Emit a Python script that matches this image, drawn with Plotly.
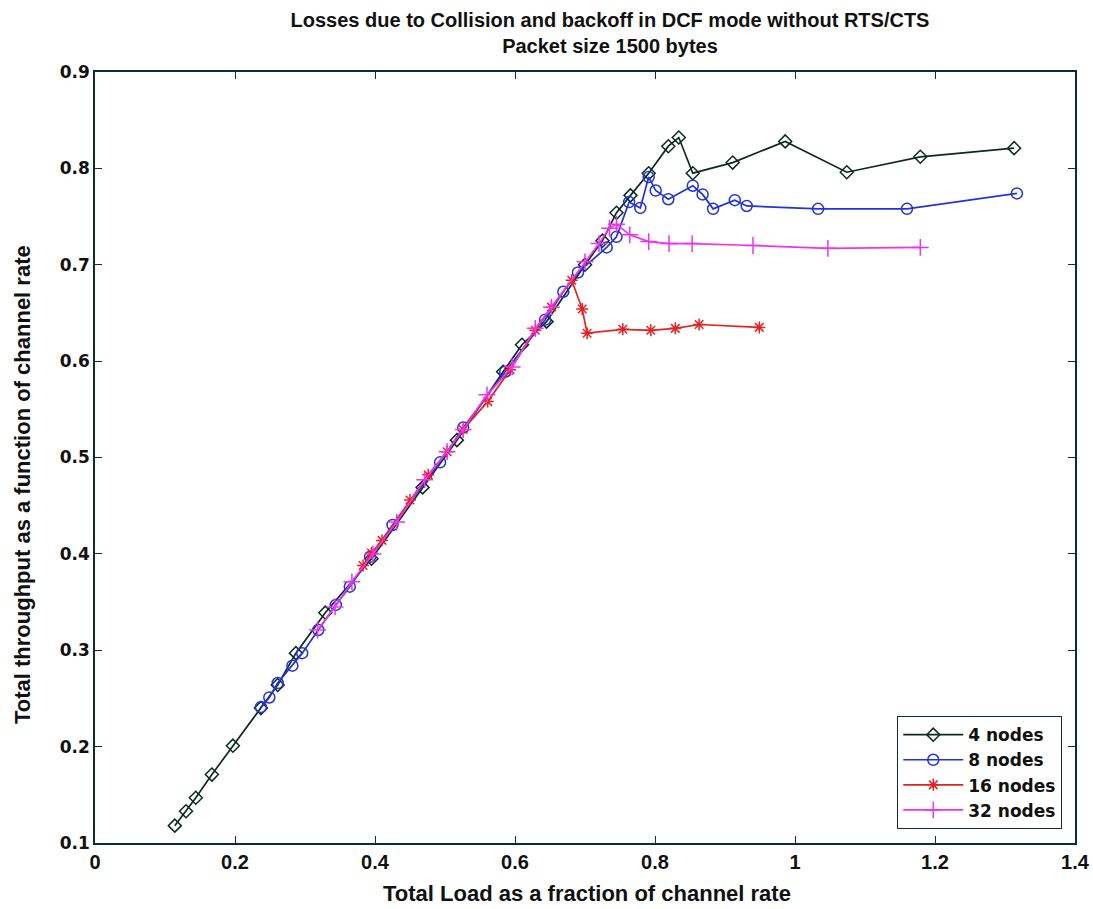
import plotly.graph_objects as go

# ---- data ----
x4 = [0.114, 0.130, 0.144, 0.167, 0.197, 0.237, 0.261, 0.287, 0.329, 0.395, 0.468, 0.517,
      0.583, 0.610, 0.645, 0.700, 0.725, 0.745, 0.765, 0.791, 0.819, 0.834, 0.854, 0.911,
      0.986, 1.074, 1.179, 1.313]
y4 = [0.118, 0.133, 0.147, 0.171, 0.201, 0.240, 0.264, 0.297, 0.339, 0.395, 0.469, 0.518,
      0.589, 0.617, 0.641, 0.700, 0.725, 0.754, 0.772, 0.795, 0.823, 0.832, 0.795, 0.806,
      0.828, 0.796, 0.812, 0.821]

x8 = [0.237, 0.249, 0.261, 0.282, 0.296, 0.319, 0.344, 0.364, 0.393, 0.425, 0.493, 0.526,
      0.586, 0.643, 0.669, 0.690, 0.731, 0.745, 0.763, 0.779, 0.791, 0.801, 0.819, 0.854,
      0.868, 0.883, 0.914, 0.931, 1.033, 1.160, 1.317]
y8 = [0.241, 0.251, 0.266, 0.284, 0.297, 0.321, 0.347, 0.366, 0.397, 0.430, 0.495, 0.531,
      0.589, 0.643, 0.672, 0.692, 0.718, 0.729, 0.765, 0.759, 0.791, 0.777, 0.768, 0.782,
      0.773, 0.758, 0.767, 0.761, 0.758, 0.758, 0.774]

x16 = [0.383, 0.395, 0.410, 0.450, 0.476, 0.503, 0.526, 0.561, 0.593, 0.629, 0.652, 0.681,
       0.696, 0.703, 0.754, 0.794, 0.829, 0.863, 0.949]
y16 = [0.388, 0.401, 0.414, 0.456, 0.482, 0.506, 0.529, 0.558, 0.591, 0.632, 0.656, 0.684,
       0.654, 0.629, 0.633, 0.632, 0.634, 0.638, 0.635]

x32 = [0.318, 0.343, 0.367, 0.397, 0.431, 0.471, 0.503, 0.526, 0.560, 0.596, 0.629, 0.652,
       0.700, 0.720, 0.735, 0.745, 0.764, 0.791, 0.820, 0.853, 0.940, 1.047, 1.179]
y32 = [0.321, 0.345, 0.371, 0.400, 0.433, 0.477, 0.506, 0.529, 0.565, 0.594, 0.634, 0.656,
       0.703, 0.722, 0.738, 0.742, 0.731, 0.724, 0.722, 0.722, 0.720, 0.717, 0.718]

names = ["4 nodes", "8 nodes", "16 nodes", "32 nodes"]
x_ticks = [0, 0.2, 0.4, 0.6, 0.8, 1, 1.2, 1.4]
x_tick_labels = ["0", "0.2", "0.4", "0.6", "0.8", "1", "1.2", "1.4"]
y_ticks = [0.1, 0.2, 0.3, 0.4, 0.5, 0.6, 0.7, 0.8, 0.9]
y_tick_labels = ["0.1", "0.2", "0.3", "0.4", "0.5", "0.6", "0.7", "0.8", "0.9"]

AX = "#0b2f2a"
SANS = "Liberation Sans, Arial"
WIDE = "DejaVu Sans, Verdana"

fig = go.Figure()
series = [
    (x4, y4, "#0d2a22", "diamond-open", 10),
    (x8, y8, "#2233dd", "circle-open", 11),
    (x16, y16, "#e52222", "asterisk-open", 10),
    (x32, y32, "#ee33ee", "cross-thin-open", 12),
]
for (xs, ys, col, sym, sz), nm in zip(series, names):
    fig.add_trace(go.Scatter(
        x=xs, y=ys, mode="lines+markers", name=nm,
        line=dict(color=col, width=1.7),
        marker=dict(symbol=sym, size=sz, color=col, line=dict(color=col, width=1.5)),
    ))

PW, PH = 980, 771
fig.update_layout(
    width=1093, height=909,
    margin=dict(l=95, r=18, t=72, b=66, autoexpand=False),
    paper_bgcolor="white", plot_bgcolor="white",
    title=dict(
        text="<b>Losses due to Collision and backoff in DCF mode without RTS/CTS</b><br><b>Packet size 1500 bytes</b>",
        x=610 / 1093, xanchor="center",
        y=1 - 27 / 909, yanchor="middle",
        font=dict(family=SANS, size=20, color="#111"),
    ),
    legend=dict(
        x=0.987, y=0.018, xanchor="right", yanchor="bottom",
        bgcolor="white", bordercolor=AX, borderwidth=1,
        font=dict(family=WIDE, size=17, color="#111", weight="bold"),
        tracegroupgap=0, itemwidth=60,
    ),
    showlegend=True,
    annotations=[
        dict(
            text="<b>Total throughput as a function of channel rate</b>",
            xref="paper", yref="paper", x=(22 - 95) / PW, y=(843 - 485) / PH,
            xanchor="center", yanchor="middle", textangle=-90, showarrow=False,
            font=dict(family=SANS, size=22, color="#111"),
        ),
        dict(
            text="<b>Total Load as a fraction of channel rate</b>",
            xref="paper", yref="paper", x=(587 - 95) / PW, y=(843 - 893) / PH,
            xanchor="center", yanchor="middle", showarrow=False,
            font=dict(family=SANS, size=22, color="#111"),
        ),
    ],
)
fig.update_xaxes(
    range=[0, 1.4], tickvals=x_ticks, ticktext=x_tick_labels,
    ticks="inside", ticklen=7, tickcolor=AX, mirror="ticks",
    showline=True, linecolor=AX, linewidth=1.5, showgrid=False, zeroline=False,
    tickfont=dict(family=SANS, size=20, color="#111", weight="bold"),
    automargin=False,
)
fig.update_yaxes(
    range=[0.1, 0.9], tickvals=y_ticks, ticktext=y_tick_labels,
    ticks="inside", ticklen=7, tickcolor=AX, mirror="ticks",
    showline=True, linecolor=AX, linewidth=1.5, showgrid=False, zeroline=False,
    tickfont=dict(family=WIDE, size=17, color="#111", weight="bold"),
    automargin=False,
)

fig.write_html("out.html")
